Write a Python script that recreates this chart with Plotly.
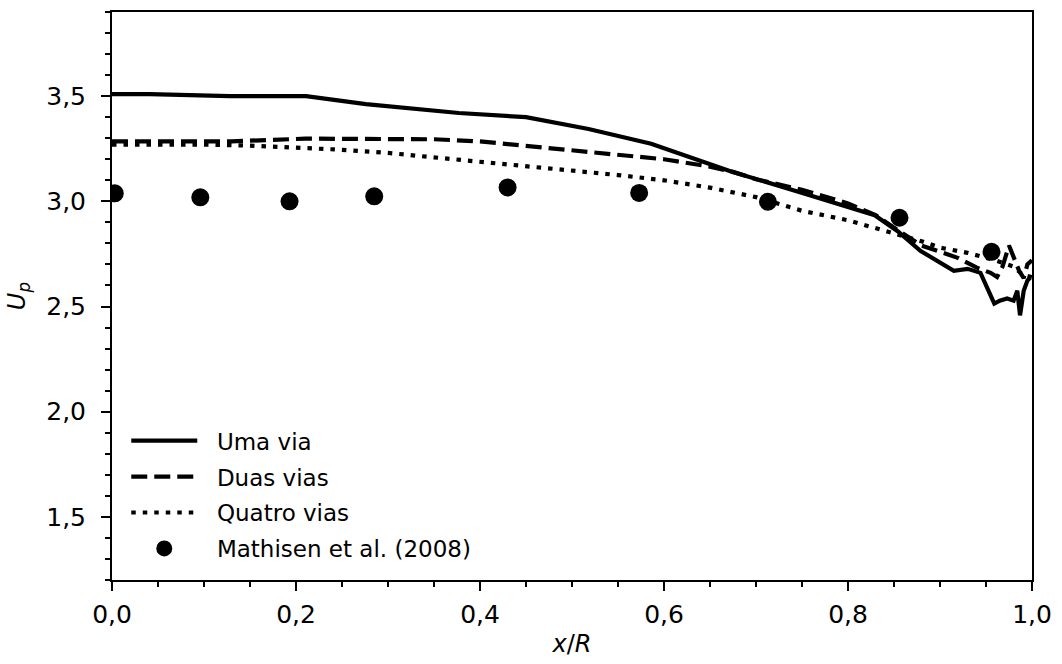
import plotly.graph_objects as go

# ---- data ----
uma_x = [0.0, 0.041, 0.128, 0.211, 0.276, 0.377, 0.45, 0.518, 0.586, 0.637, 0.673, 0.745,
         0.829, 0.854, 0.879, 0.915, 0.93, 0.944, 0.951, 0.959, 0.965, 0.973, 0.98, 0.984,
         0.987, 0.991, 0.995, 0.998]
uma_y = [3.51, 3.51, 3.50, 3.50, 3.462, 3.42, 3.40, 3.344, 3.274, 3.198, 3.142, 3.047,
         2.934, 2.858, 2.764, 2.67, 2.679, 2.66, 2.59, 2.514, 2.528, 2.538, 2.528, 2.575,
         2.458, 2.575, 2.623, 2.637]

duas_x = [0.0, 0.05, 0.13, 0.21, 0.30, 0.35, 0.40, 0.45, 0.50, 0.55, 0.60, 0.65, 0.675,
          0.70, 0.75, 0.80, 0.83, 0.855, 0.88, 0.90, 0.92, 0.94, 0.955, 0.962, 0.968,
          0.975, 0.98, 0.986, 0.991, 0.995, 1.0]
duas_y = [3.285, 3.285, 3.285, 3.298, 3.298, 3.295, 3.285, 3.265, 3.245, 3.225, 3.20,
          3.165, 3.14, 3.105, 3.055, 2.99, 2.935, 2.86, 2.79, 2.76, 2.73, 2.685, 2.66,
          2.64, 2.69, 2.79, 2.74, 2.67, 2.635, 2.70, 2.72]

quatro_x = [0.0, 0.05, 0.10, 0.15, 0.20, 0.25, 0.30, 0.35, 0.40, 0.45, 0.50, 0.55, 0.60,
            0.65, 0.70, 0.75, 0.80, 0.85, 0.88, 0.90, 0.93, 0.96, 0.98, 0.99, 1.0]
quatro_y = [3.27, 3.27, 3.27, 3.265, 3.255, 3.245, 3.23, 3.21, 3.19, 3.17, 3.15, 3.125,
            3.10, 3.065, 3.02, 2.955, 2.91, 2.85, 2.81, 2.78, 2.755, 2.72, 2.69, 2.65, 2.64]

mathisen_x = [0.003, 0.096, 0.193, 0.285, 0.430, 0.573, 0.713, 0.856, 0.956]
mathisen_y = [3.038, 3.019, 3.000, 3.024, 3.066, 3.040, 2.998, 2.922, 2.760]

x_tickvals = [0.0, 0.2, 0.4, 0.6, 0.8, 1.0]
x_ticktext = ["0,0", "0,2", "0,4", "0,6", "0,8", "1,0"]
y_tickvals = [1.5, 2.0, 2.5, 3.0, 3.5]
y_ticktext = ["1,5", "2,0", "2,5", "3,0", "3,5"]

series_names = ["Uma via", "Duas vias", "Quatro vias", "Mathisen et al. (2008)"]

FONT = "DejaVu Sans"
LW = 4.2
PAD = "\u00a0\u00a0"  # small gap between legend key and label

fig = go.Figure()
fig.add_trace(go.Scatter(x=uma_x, y=uma_y, mode="lines", name=PAD + series_names[0],
                         legendgroup="a",
                         line=dict(color="black", width=LW)))
fig.add_trace(go.Scatter(x=duas_x, y=duas_y, mode="lines", name=PAD + series_names[1],
                         legendgroup="b",
                         line=dict(color="black", width=LW, dash="16px,7px")))
fig.add_trace(go.Scatter(x=quatro_x, y=quatro_y, mode="lines", name=PAD + series_names[2],
                         legendgroup="c",
                         line=dict(color="black", width=LW, dash="4.5px,7px")))
fig.add_trace(go.Scatter(x=mathisen_x, y=mathisen_y, mode="markers",
                         name=PAD + series_names[3], legendgroup="d",
                         marker=dict(color="black", size=18, symbol="circle")))

axis_common = dict(showgrid=False, zeroline=False, showline=True, linecolor="black",
                   linewidth=2, mirror=True, ticks="outside", ticklen=9, tickwidth=2,
                   tickcolor="black", tickfont=dict(family=FONT, size=25, color="black"))

fig.update_xaxes(range=[0, 1.0], tickvals=x_tickvals, ticktext=x_ticktext,
                 minor=dict(dtick=0.05, tick0=0, ticks="outside", ticklen=5, tickwidth=1.5,
                            tickcolor="black"),
                 ticklabelstandoff=2,
                 title=dict(text="<i>x</i>/<i>R</i>", font=dict(family=FONT, size=24, color="black"),
                            standoff=7),
                 **axis_common)
fig.update_yaxes(range=[1.2, 3.9], tickvals=y_tickvals, ticktext=y_ticktext,
                 minor=dict(dtick=0.1, tick0=0, ticks="outside", ticklen=5, tickwidth=1.5,
                            tickcolor="black"),
                 ticklabelstandoff=10,
                 title=dict(text="<i>U<sub>p</sub></i>", font=dict(family=FONT, size=24, color="black"),
                            standoff=14),
                 **axis_common)

fig.update_layout(
    width=1062, height=664,
    margin=dict(l=112, r=27, t=10, b=84),
    paper_bgcolor="white", plot_bgcolor="white",
    font=dict(family=FONT, size=23, color="black"),
    showlegend=True,
    legend=dict(x=0.0155, y=0.283, xanchor="left", yanchor="top",
                bgcolor="rgba(0,0,0,0)", borderwidth=0,
                font=dict(family=FONT, size=23, color="black"),
                itemwidth=66, traceorder="grouped", tracegroupgap=3),
)

fig.write_html("out.html")
